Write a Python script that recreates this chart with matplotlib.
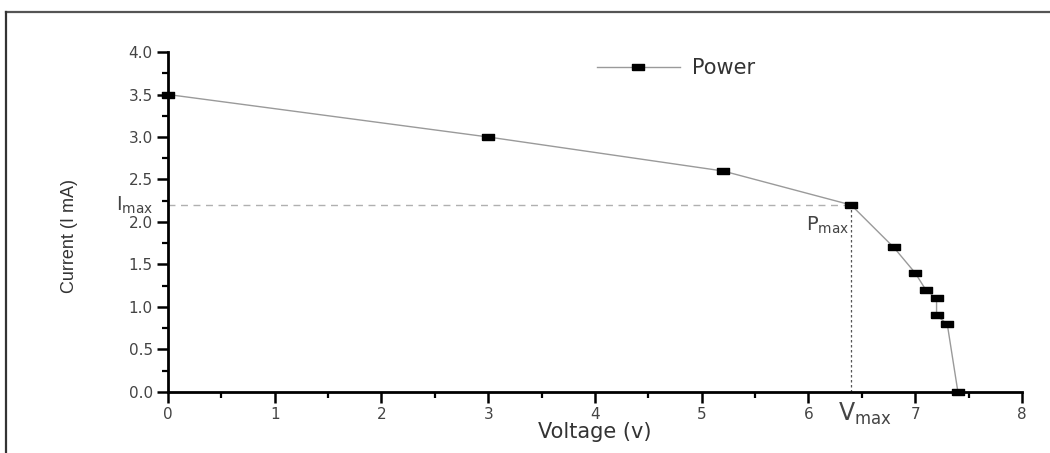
import matplotlib.pyplot as plt
from matplotlib.ticker import MultipleLocator, FormatStrFormatter
from matplotlib.lines import Line2D

# I-V curve points
voltage = [0, 3.0, 5.2, 6.4, 6.8, 7.0, 7.1, 7.2, 7.2, 7.3, 7.4]
current = [3.5, 3.0, 2.6, 2.2, 1.7, 1.4, 1.2, 1.1, 0.9, 0.8, 0.0]
v_max = 6.4
i_max = 2.2

plt.rcParams['font.family'] = ['DejaVu Sans']
plt.rcParams['mathtext.fontset'] = 'custom'
plt.rcParams['mathtext.rm'] = 'DejaVu Sans'

fig = plt.figure(figsize=(10.5, 4.53), dpi=100)
ax = fig.add_axes([0.16, 0.1347, 0.8133, 0.7505])

# frame around the figure (only top and left edges visible in the crop)
fig.add_artist(Line2D([6/1050, 1.0], [1 - 12/453, 1 - 12/453], transform=fig.transFigure,
                      color='#555555', lw=1.6))
fig.add_artist(Line2D([6/1050, 6/1050], [0, 1 - 12/453], transform=fig.transFigure,
                      color='#333333', lw=1.6))

rect = [(-1, -0.5), (1, -0.5), (1, 0.5), (-1, 0.5), (-1, -0.5)]
ax.plot(voltage, current, color='#9a9a9a', lw=1.0, marker=rect, markersize=9,
        markerfacecolor='black', markeredgecolor='black', label='Power', zorder=3,
        clip_on=False)

# max power point guide lines
ax.plot([0, v_max], [i_max, i_max], color='#b0b0b0', lw=1.0, ls=(0, (5, 4)), zorder=2)
ax.plot([v_max, v_max], [0, i_max], color='#555555', lw=0.9, ls=(0, (2, 2)), zorder=2)

ax.set_xlim(0, 8)
ax.set_ylim(0, 4.0)
ax.xaxis.set_major_locator(MultipleLocator(1))
ax.xaxis.set_minor_locator(MultipleLocator(0.5))
ax.yaxis.set_major_locator(MultipleLocator(0.5))
ax.yaxis.set_minor_locator(MultipleLocator(0.25))
ax.yaxis.set_major_formatter(FormatStrFormatter('%.1f'))

for s in ['top', 'right']:
    ax.spines[s].set_visible(False)
for s in ['left', 'bottom']:
    ax.spines[s].set_linewidth(2.0)
ax.tick_params(which='major', direction='out', length=8, width=1.8,
               labelsize=11, labelcolor='#444444', pad=3)
ax.tick_params(which='minor', direction='out', length=4, width=1.6)

ax.set_xlabel('Voltage (v)', fontsize=15, color='#333333', labelpad=0)
ax.set_ylabel('Current (I mA)', fontsize=13, color='#333333',
              family=['Liberation Sans Narrow', 'Liberation Sans', 'DejaVu Sans'])
ax.yaxis.set_label_coords(-0.105, 0.46)

# annotations
ax.text(-0.14, i_max, r'I$_{\mathrm{max}}$', fontsize=14, color='#444444',
        ha='right', va='center', clip_on=False)
ax.text(v_max - 0.02, i_max - 0.24, r'P$_{\mathrm{max}}$', fontsize=14, color='#444444',
        ha='right', va='center')
ax.text(v_max - 0.12, -0.1, r'V$_{\mathrm{max}}$', fontsize=17, color='#444444',
        ha='left', va='top', clip_on=False)

ax.legend(loc='center left', bbox_to_anchor=(0.48, 0.953), frameon=False,
          fontsize=15, handlelength=4.0, handletextpad=0.6, labelcolor='#333333')

fig.savefig('out.png', dpi=100)
